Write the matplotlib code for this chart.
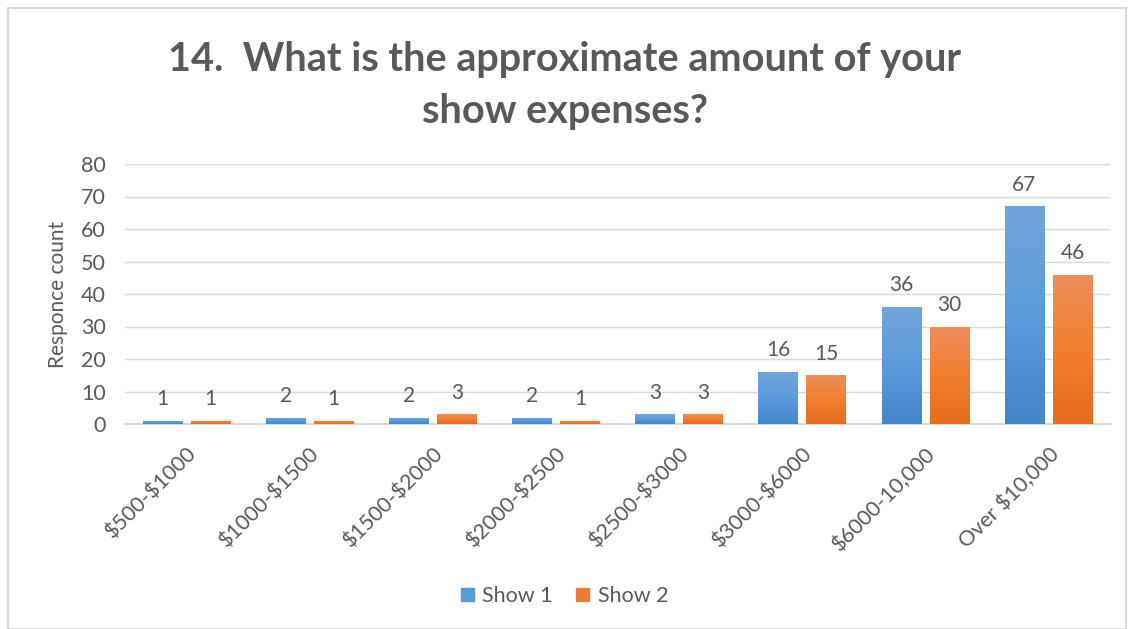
import numpy as np
import matplotlib
matplotlib.use("Agg")
import matplotlib.pyplot as plt
from matplotlib.colors import LinearSegmentedColormap
from matplotlib.patches import Rectangle

plt.rcParams['font.family'] = ['Lato', 'DejaVu Sans']
plt.rcParams['text.parse_math'] = False

categories = ["$500-$1000", "$1000-$1500", "$1500-$2000", "$2000-$2500",
              "$2500-$3000", "$3000-$6000", "$6000-10,000", "Over $10,000"]
show1 = [1, 2, 2, 2, 3, 16, 36, 67]
show2 = [1, 1, 3, 1, 3, 15, 30, 46]
series_names = ["Show 1", "Show 2"]

blue_cmap = LinearSegmentedColormap.from_list("b", ["#4485CC", "#5A9BDC", "#71A6DB"])
orange_cmap = LinearSegmentedColormap.from_list("o", ["#E46B1B", "#F27F30", "#EF8E5B"])
text_gray = "#595959"

fig = plt.figure(figsize=(11.29, 6.29), dpi=100)
fig.patches.append(Rectangle((0.007, 0.0), 0.99, 0.988, transform=fig.transFigure,
                             fill=False, edgecolor="#D9D9D9", linewidth=1.5))
ax = fig.add_axes([125 / 1129, 1 - 424 / 629, 985 / 1129, 260 / 629])

x = np.arange(len(categories))
w = 0.32
off = 0.195
grad = np.linspace(0, 1, 256).reshape(-1, 1)

for vals, cmap, sign in [(show1, blue_cmap, -1), (show2, orange_cmap, 1)]:
    bars = ax.bar(x + sign * off, vals, w, color="none", zorder=3)
    for b, v in zip(bars, vals):
        x0, y0 = b.get_x(), b.get_y()
        im = ax.imshow(grad, cmap=cmap, aspect="auto", origin="lower",
                       extent=[x0, x0 + b.get_width(), y0, y0 + b.get_height()], zorder=3)
        im.set_clip_path(b)
        ax.text(b.get_x() + b.get_width() / 2, v + 3.6, str(v), ha="center", va="bottom",
                fontsize=15, color=text_gray)

ax.set_xlim(-0.5, len(categories) - 0.5)
ax.set_ylim(0, 80)
ax.set_yticks(range(0, 81, 10))
ax.yaxis.grid(True, color="#D9D9D9", linewidth=1)
ax.set_axisbelow(True)
for s in ["top", "right", "left"]:
    ax.spines[s].set_visible(False)
ax.spines["bottom"].set_color("#D9D9D9")
ax.spines["bottom"].set_linewidth(1.5)
ax.tick_params(axis="both", length=0, colors=text_gray, labelsize=15.5)
ax.tick_params(axis="y", pad=14)
ax.set_xticks(x)
ax.set_xticklabels(categories, rotation=45, ha="right", rotation_mode="anchor")
ax.tick_params(axis="x", pad=14)
ax.set_ylabel("Responce count", fontsize=15, color=text_gray, labelpad=9)

fig.text(0.5, 1 - 86 / 629, "14.  What is the approximate amount of your\nshow expenses?",
         ha="center", va="center", fontsize=28.5, fontweight="bold", color=text_gray,
         linespacing=1.5)

handles = [Rectangle((0, 0), 1, 1, color="#5B9BD5"), Rectangle((0, 0), 1, 1, color="#ED7D31")]
fig.legend(handles, series_names, loc="center", bbox_to_anchor=(0.5, 1 - 596 / 629), ncol=2,
           frameon=False, fontsize=15.5, handlelength=0.6, handleheight=0.6,
           columnspacing=1.1, handletextpad=0.4, labelcolor=text_gray)

fig.savefig("out.png", dpi=100)
